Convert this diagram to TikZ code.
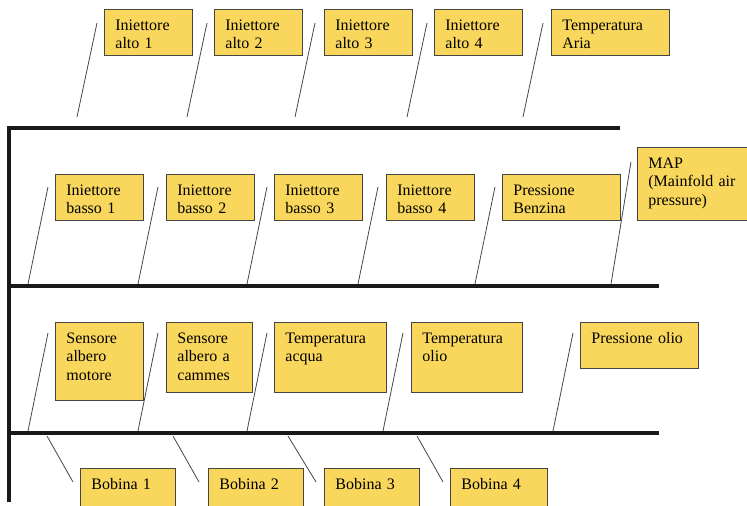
\documentclass[tikz,border=0pt]{standalone}
\usepackage{fontspec}
\setmainfont{Liberation Serif}

\definecolor{notefill}{RGB}{249,215,92}
\definecolor{noteline}{RGB}{70,70,70}
\definecolor{spineink}{RGB}{25,25,25}

\begin{document}
\begin{tikzpicture}[
x=1pt, y=-1pt,
note/.style={rectangle, draw=noteline, line width=0.8pt, fill=notefill, anchor=north west, align=left, inner xsep=11pt, inner ysep=8pt, text height=13pt, text depth=17pt, text width=66pt, font=\fontsize{16}{18.5}\selectfont},
spine/.style={line width=4.5pt, draw=spineink, line join=miter},
leg/.style={draw=noteline, line width=0.8pt}
]
\useasboundingbox (0,0) rectangle (747,506);
\clip (0,0) rectangle (747,506);

% spine
\coordinate (topend) at (620,128);
\coordinate (corner) at (9,128);
\coordinate (foot) at (9,502);
\coordinate (midstart) at (9,286);
\coordinate (midend) at (659,286);
\coordinate (lowstart) at (9,433);
\coordinate (lowend) at (659,433);

\draw[spine] (topend) -- (corner) -- (foot);
\draw[spine] (midstart) -- (midend);
\draw[spine] (lowstart) -- (lowend);

% top row
\node[note] (alto1) at (104,9) {Iniettore\\alto 1};
\node[note] (alto2) at (214,9) {Iniettore\\alto 2};
\node[note] (alto3) at (324,9) {Iniettore\\alto 3};
\node[note] (alto4) at (434,9) {Iniettore\\alto 4};
\node[note, text width=96pt] (aria) at (551,9) {Temperatura\\Aria};

% middle row
\node[note] (basso1) at (55,174) {Iniettore\\basso 1};
\node[note] (basso2) at (166,174) {Iniettore\\basso 2};
\node[note] (basso3) at (274,174) {Iniettore\\basso 3};
\node[note] (basso4) at (386,174) {Iniettore\\basso 4};
\node[note, text width=96pt] (benzina) at (502,174) {Pressione\\Benzina};
\node[note, text width=88pt, text depth=44pt] (map) at (637,147) {MAP\\(Mainfold air\\pressure)};

% lower row
\node[note, text depth=49pt] (motore) at (55,322) {Sensore\\albero\\motore};
\node[note, text width=64pt, text depth=41pt] (cammes) at (166,322) {Sensore\\albero a\\cammes};
\node[note, text width=90pt, text depth=41pt] (acqua) at (274,322) {Temperatura\\acqua};
\node[note, text width=89pt, text depth=41pt] (olio) at (411,322) {Temperatura\\olio};
\node[note, text width=96pt] (poil) at (580,322) {Pressione olio};

% coils
\node[note, text width=73pt, text depth=21pt] (bob1) at (80,468) {Bobina 1};
\node[note, text width=73pt, text depth=21pt] (bob2) at (208,468) {Bobina 2};
\node[note, text width=73pt, text depth=21pt] (bob3) at (324,468) {Bobina 3};
\node[note, text width=75pt, text depth=21pt] (bob4) at (450,468) {Bobina 4};

% legs
\draw[leg] ([shift={(-7,14)}]alto1.north west) -- ++(-20,94);
\draw[leg] ([shift={(-7,14)}]alto2.north west) -- ++(-20,94);
\draw[leg] ([shift={(-9,14)}]alto3.north west) -- ++(-20,94);
\draw[leg] ([shift={(-7,14)}]alto4.north west) -- ++(-20,94);
\draw[leg] ([shift={(-8,14)}]aria.north west) -- ++(-20,94);

\draw[leg] ([shift={(-7,13)}]basso1.north west) -- ++(-20,97);
\draw[leg] ([shift={(-8,13)}]basso2.north west) -- ++(-20,97);
\draw[leg] ([shift={(-7,13)}]basso3.north west) -- ++(-20,97);
\draw[leg] ([shift={(-8,13)}]basso4.north west) -- ++(-20,97);
\draw[leg] ([shift={(-7,13)}]benzina.north west) -- ++(-20,97);
\draw[leg] ([shift={(-6,15)}]map.north west) -- ++(-20,122);

\draw[leg] ([shift={(-7,11)}]motore.north west) -- ++(-20,98);
\draw[leg] ([shift={(-8,11)}]cammes.north west) -- ++(-20,98);
\draw[leg] ([shift={(-7,11)}]acqua.north west) -- ++(-20,98);
\draw[leg] ([shift={(-8,11)}]olio.north west) -- ++(-20,98);
\draw[leg] ([shift={(-7,11)}]poil.north west) -- ++(-20,98);

\draw[leg] ([shift={(-7,14)}]bob1.north west) -- ++(-26,-46);
\draw[leg] ([shift={(-9,14)}]bob2.north west) -- ++(-26,-46);
\draw[leg] ([shift={(-8,14)}]bob3.north west) -- ++(-28,-46);
\draw[leg] ([shift={(-7,14)}]bob4.north west) -- ++(-26,-46);

\end{tikzpicture}
\end{document}
